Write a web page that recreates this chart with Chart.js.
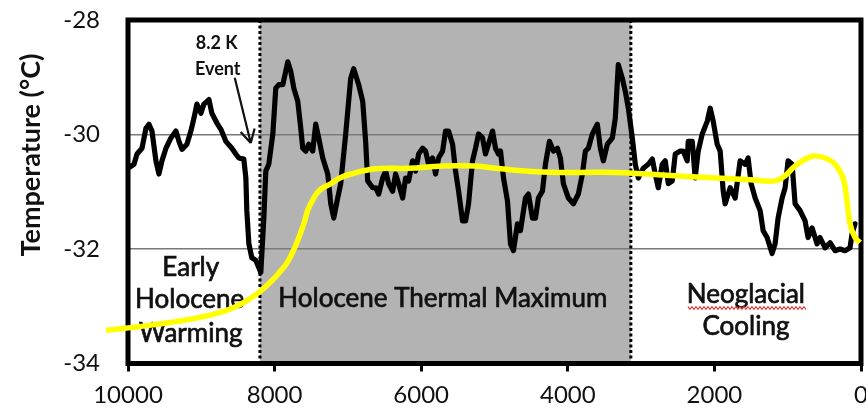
<!DOCTYPE html>
<html>
<head>
<meta charset="utf-8">
<script src="https://cdn.jsdelivr.net/npm/chart.js@4.4.1/dist/chart.umd.min.js"></script>
<style>
  html, body { margin: 0; padding: 0; background: #ffffff; }
  #wrap { width: 866px; height: 413px; }
</style>
</head>
<body>
<div id="wrap"><canvas id="chart" width="866" height="413"></canvas></div>
<script>
// Ice-core temperature record (years before present, °C)
const yearsBP = [
  9990, 9918, 9877, 9809, 9755, 9714, 9673, 9619, 9578, 9537, 9482, 9414, 9346, 9305, 9264, 9196,
  9142, 9101, 9060, 9005, 8965, 8896, 8856, 8787, 8733, 8665, 8583, 8529, 8488, 8420, 8392, 8379,
  8351, 8311, 8256, 8188, 8147, 8120, 8079, 8024, 7984, 7943, 7888, 7820, 7779, 7738, 7684, 7643,
  7616, 7575, 7534, 7480, 7439, 7398, 7343, 7275, 7234, 7193, 7139, 7098, 7030, 6962, 6921, 6853,
  6798, 6758, 6730, 6662, 6621, 6580, 6526, 6485, 6444, 6390, 6349, 6308, 6253, 6213, 6172, 6117,
  6076, 6035, 5981, 5940, 5899, 5845, 5804, 5763, 5708, 5668, 5627, 5572, 5531, 5490, 5436, 5395,
  5354, 5300, 5259, 5218, 5163, 5123, 5082, 5027, 4986, 4946, 4918, 4877, 4823, 4782, 4741, 4687,
  4646, 4578, 4537, 4482, 4441, 4401, 4346, 4305, 4251, 4196, 4142, 4101, 4060, 3992, 3924, 3856,
  3801, 3760, 3719, 3665, 3597, 3556, 3515, 3460, 3392, 3352, 3311, 3256, 3215, 3174, 3120, 3079,
  3038, 2970, 2902, 2847, 2807, 2766, 2711, 2670, 2629, 2575, 2534, 2466, 2425, 2371, 2357, 2302,
  2262, 2221, 2166, 2098, 2057, 2016, 1962, 1921, 1880, 1853, 1785, 1717, 1649, 1580, 1540, 1499,
  1444, 1376, 1335, 1281, 1213, 1172, 1131, 1076, 1035, 995, 940, 899, 831, 763, 722, 668,
  599, 559, 490, 422, 354, 286, 218, 150, 123, 82
];
const tempRecord = [
  -30.58, -30.52, -30.34, -30.24, -29.89, -29.82, -29.94, -30.46, -30.69, -30.46, -30.24, -30.06, -29.94, -30.12, -30.26, -30.17,
  -29.94, -29.72, -29.47, -29.63, -29.47, -29.39, -29.63, -29.80, -29.91, -30.12, -30.24, -30.34, -30.41, -30.43, -30.76, -31.33,
  -31.91, -32.15, -32.20, -32.41, -31.46, -30.64, -30.52, -29.99, -29.19, -29.13, -29.13, -28.73, -28.90, -29.19, -29.42, -29.89,
  -30.24, -30.29, -30.17, -30.29, -29.82, -30.06, -30.41, -30.69, -31.21, -31.46, -31.11, -30.86, -29.99, -29.02, -28.85, -29.13,
  -29.42, -30.12, -30.81, -30.93, -30.93, -31.04, -30.76, -30.64, -30.86, -30.99, -30.69, -30.86, -31.11, -30.76, -30.81, -30.46,
  -30.64, -30.34, -30.24, -30.29, -30.52, -30.41, -30.69, -30.41, -30.29, -29.94, -29.94, -30.17, -30.64, -30.99, -31.51, -31.51,
  -31.21, -30.46, -30.24, -29.99, -30.06, -30.34, -30.17, -29.94, -30.24, -30.34, -30.29, -30.76, -31.16, -31.91, -32.03, -31.56,
  -31.68, -31.11, -31.04, -31.46, -31.46, -31.11, -30.99, -30.52, -30.12, -30.29, -30.24, -30.41, -30.86, -31.11, -31.21, -31.04,
  -30.69, -30.29, -30.24, -29.99, -29.82, -30.24, -30.46, -30.17, -30.06, -29.72, -28.78, -29.02, -29.25, -29.54, -30.06, -30.52,
  -30.76, -30.59, -30.52, -30.43, -30.69, -30.93, -30.52, -30.46, -30.86, -30.81, -30.34, -30.29, -30.29, -30.46, -30.12, -30.12,
  -30.76, -30.29, -29.99, -29.77, -29.54, -29.77, -30.17, -30.29, -30.99, -31.21, -30.93, -31.11, -30.46, -30.52, -30.41, -30.86,
  -31.11, -31.33, -31.68, -31.80, -32.08, -31.91, -31.46, -31.11, -30.93, -30.46, -30.52, -31.21, -31.33, -31.51, -31.80, -31.63,
  -31.91, -31.80, -31.98, -31.89, -32.03, -32.00, -32.03, -31.98, -31.74, -31.56
];

// Hand-drawn trend curve overlaid on the record
const trendYears = [
  10300, 9687, 9005, 8556, 8188, 7875, 7738, 7602, 7547, 7466, 7384, 7234, 7111, 6962, 6621, 6172,
  5708, 5259, 4918, 4237, 3556, 3215, 2302, 1512, 1172, 1035, 899, 668, 490, 354, 245, 191, 150, 82, 14
];
const trendTemps = [
  -33.42, -33.33, -33.19, -33.02, -32.73, -32.32, -32.01, -31.56, -31.32, -31.11, -30.97, -30.86, -30.76, -30.69, -30.60, -30.59,
  -30.55, -30.55, -30.60, -30.66, -30.66, -30.67, -30.74, -30.79, -30.81, -30.72, -30.55, -30.38, -30.41, -30.52, -30.76, -31.16,
  -31.56, -31.80, -31.89
];

const xTickValues = [10000, 8000, 6000, 4000, 2000, 0];
const yTickValues = [-34, -32, -30, -28];
const gridTemps = [-30, -32];
const thermalMaxStart = 8200;
const thermalMaxEnd = 3140;

const FONT = 'Lato, "Open Sans", sans-serif';
const INK = '#111111';

// Period labels and the 8.2 K event call-out, placed in data units
const periodLabels = [
  { text: 'Early', x: 9144, y: -32.33 },
  { text: 'Holocene', x: 9158, y: -32.89 },
  { text: 'Warming', x: 9144, y: -33.47 },
  { text: 'Holocene Thermal Maximum', x: 5705, y: -32.86 },
  { text: 'Neoglacial', x: 1570, y: -32.80 },
  { text: 'Cooling', x: 1570, y: -33.36 }
];
const eventLabels = [
  { text: '8.2 K', x: 8789, y: -28.40 },
  { text: 'Event', x: 8776, y: -28.86 }
];
const eventArrow = { from: { x: 8544, y: -29.01 }, to: { x: 8325, y: -30.15 } };
const squiggle = { x0: 2361, x1: 737, y: -33.03 };

// draws text with a hairline outline so it reads a touch heavier
function heavyText(ctx, text, x, y, weight) {
  ctx.fillText(text, x, y);
  ctx.lineWidth = weight;
  ctx.strokeStyle = ctx.fillStyle;
  ctx.strokeText(text, x, y);
}

const decorations = {
  id: 'decorations',
  beforeDraw(chart) {
    const { ctx, chartArea: a, scales: { x } } = chart;
    ctx.save();
    ctx.fillStyle = '#b3b3b3';
    const l = x.getPixelForValue(thermalMaxStart), r = x.getPixelForValue(thermalMaxEnd);
    ctx.fillRect(l, a.top, r - l, a.bottom - a.top);
    ctx.restore();
  },
  beforeDatasetsDraw(chart) {
    const { ctx, chartArea: a, scales: { x, y } } = chart;
    ctx.save();
    // dotted period boundaries
    ctx.strokeStyle = '#000';
    ctx.lineWidth = 3;
    ctx.setLineDash([3, 2.5]);
    [thermalMaxStart, thermalMaxEnd].forEach(v => {
      const px = x.getPixelForValue(v);
      ctx.beginPath();
      ctx.moveTo(px, a.top);
      ctx.lineTo(px, a.bottom);
      ctx.stroke();
    });
    ctx.setLineDash([]);

    // plot frame
    ctx.lineWidth = 5;
    ctx.strokeStyle = '#000';
    ctx.strokeRect(a.left, a.top, a.right - a.left, a.bottom - a.top);

    // period labels
    ctx.fillStyle = INK;
    ctx.textAlign = 'center';
    ctx.textBaseline = 'middle';
    ctx.font = '26px ' + FONT;
    periodLabels.forEach(t => heavyText(ctx, t.text, x.getPixelForValue(t.x), y.getPixelForValue(t.y), 0.7));

    // spell-check squiggle under "Neoglacial"
    const sx0 = x.getPixelForValue(squiggle.x0), sx1 = x.getPixelForValue(squiggle.x1);
    const sy = y.getPixelForValue(squiggle.y);
    ctx.strokeStyle = '#e23b3b';
    ctx.lineWidth = 1.2;
    ctx.beginPath();
    for (let px = sx0, k = 0; px <= sx1; px += 2, k++) {
      const py = sy + (k % 2 ? 1.3 : -1.3);
      if (k === 0) ctx.moveTo(px, py); else ctx.lineTo(px, py);
    }
    ctx.stroke();

    // 8.2 K event label and arrow
    ctx.fillStyle = INK;
    ctx.font = 'bold 18px ' + FONT;
    eventLabels.forEach(t => ctx.fillText(t.text, x.getPixelForValue(t.x), y.getPixelForValue(t.y)));
    const ax0 = x.getPixelForValue(eventArrow.from.x), ay0 = y.getPixelForValue(eventArrow.from.y);
    const ax1 = x.getPixelForValue(eventArrow.to.x), ay1 = y.getPixelForValue(eventArrow.to.y);
    ctx.strokeStyle = '#111';
    ctx.lineWidth = 2.2;
    ctx.beginPath();
    ctx.moveTo(ax0, ay0);
    ctx.lineTo(ax1, ay1);
    const ang = Math.atan2(ay1 - ay0, ax1 - ax0);
    const head = 15;
    ctx.moveTo(ax1, ay1);
    ctx.lineTo(ax1 - head * Math.cos(ang - 0.5), ay1 - head * Math.sin(ang - 0.5));
    ctx.moveTo(ax1, ay1);
    ctx.lineTo(ax1 - head * Math.cos(ang + 0.5), ay1 - head * Math.sin(ang + 0.5));
    ctx.stroke();

    // vertical axis title
    ctx.translate(31, 155);
    ctx.rotate(-Math.PI / 2);
    ctx.font = 'bold 27px ' + FONT;
    ctx.fillStyle = INK;
    ctx.fillText('Temperature (\u00B0C)', 0, 0);
    ctx.restore();
  }
};

new Chart(document.getElementById('chart'), {
  type: 'line',
  data: {
    datasets: [
      {
        label: 'Trend',
        data: trendYears.map((v, i) => ({ x: v, y: trendTemps[i] })),
        borderColor: '#ffff00',
        borderWidth: 5.5,
        pointRadius: 0,
        tension: 0.4,
        clip: false,
        order: 0
      },
      {
        label: 'Temperature',
        data: yearsBP.map((v, i) => ({ x: v, y: tempRecord[i] })),
        borderColor: '#000000',
        borderWidth: 5.2,
        borderJoinStyle: 'round',
        borderCapStyle: 'round',
        pointRadius: 0,
        tension: 0,
        order: 1
      }
    ]
  },
  options: {
    responsive: false,
    devicePixelRatio: 1,
    animation: false,
    layout: { padding: { top: 20, right: 5, bottom: 0, left: 0 } },
    plugins: { legend: { display: false }, tooltip: { enabled: false } },
    scales: {
      x: {
        type: 'linear',
        min: 0,
        max: 10000,
        reverse: true,
        afterBuildTicks: s => { s.ticks = xTickValues.map(v => ({ value: v })); },
        afterFit: s => { s.height = 49.5; s.paddingLeft = 0; s.paddingRight = 0; s.paddingTop = 0; s.paddingBottom = 0; },
        border: { display: false },
        grid: { drawOnChartArea: false, drawTicks: true, tickLength: 8, tickWidth: 3, tickColor: '#000' },
        ticks: { color: INK, font: { family: FONT, size: 24 }, padding: 9, maxRotation: 0, autoSkip: false, callback: v => String(v) }
      },
      y: {
        min: -34,
        max: -28,
        afterBuildTicks: s => { s.ticks = yTickValues.map(v => ({ value: v })); },
        afterFit: s => { s.width = 128; s.paddingTop = 0; s.paddingBottom = 0; s.paddingLeft = 0; s.paddingRight = 0; },
        border: { display: false },
        grid: {
          drawTicks: false,
          lineWidth: 1.5,
          color: c => gridTemps.includes(c.tick && c.tick.value) ? '#7a7a7a' : 'rgba(0,0,0,0)'
        },
        ticks: { color: INK, font: { family: FONT, size: 24 }, padding: 28, autoSkip: false, callback: v => String(v) }
      }
    }
  },
  plugins: [decorations]
});
</script>
</body>
</html>
